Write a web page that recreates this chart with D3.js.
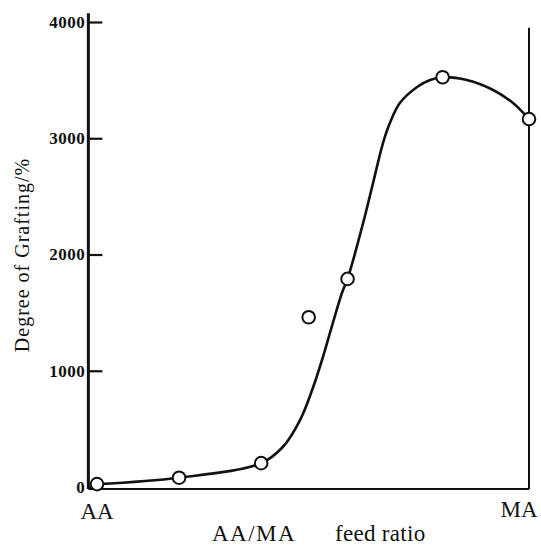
<!DOCTYPE html>
<html>
<head>
<meta charset="utf-8">
<script src="https://cdn.jsdelivr.net/npm/d3@7"></script>
<style>
  html, body { margin: 0; padding: 0; background: #fff; }
  svg { display: block; }
</style>
</head>
<body>
<svg id="chart" width="541" height="545"></svg>
<script>
// ---- data ----
// feed ratio position along the AA -> MA axis (0 = AA, 1 = MA)
const feedRatio = [0, 0.19, 0.38, 0.49, 0.58, 0.80, 1.0];
const grafting  = [25, 80, 205, 1460, 1790, 3525, 3165];

// hand-drawn fitted curve
const curveRatio = [0, 0.19, 0.38, 0.43, 0.47, 0.498, 0.523, 0.546, 0.567, 0.58,
                    0.616, 0.639, 0.662, 0.678, 0.701, 0.741, 0.771, 0.80, 0.856, 0.917, 0.963, 1.0];
const curveValue = [25, 80, 205, 344, 576, 834, 1118, 1411, 1669, 1790,
                    2271, 2615, 2959, 3131, 3303, 3441, 3501, 3525, 3501, 3415, 3303, 3165];

const yTicks = [0, 1000, 2000, 3000, 4000];
const endLabels = ["AA", "MA"];
const yTitle = "Degree of Grafting/%";
const xTitleA = "AA/MA";
const xTitleB = "feed ratio";

// axis extents in data units
const yAxisExtent = [-17, 4075];
const xAxisExtent = [-0.02, 1.0];
const rightLineTop = 3950;

// ---- scales ----
const x = d3.scaleLinear().domain([0, 1]).range([97, 529]);
const y = d3.scaleLinear().domain([0, 4000]).range([487, 22]);

const svg = d3.select("#chart");
const serif = "'Liberation Serif', 'Times New Roman', serif";

// bottom axis line
svg.append("line")
  .attr("x1", x(xAxisExtent[0])).attr("x2", x(xAxisExtent[1]))
  .attr("y1", y(yAxisExtent[0])).attr("y2", y(yAxisExtent[0]))
  .attr("stroke", "#111").attr("stroke-width", 2.2);

// right line (MA)
svg.append("line")
  .attr("x1", x(1)).attr("x2", x(1))
  .attr("y1", y(yAxisExtent[0])).attr("y2", y(rightLineTop))
  .attr("stroke", "#111").attr("stroke-width", 2);

// left axis
const yAxis = d3.axisLeft(y).tickValues(yTicks)
  .tickSizeInner(-14).tickSizeOuter(0).tickPadding(3)
  .tickFormat(d3.format("d"));
const gy = svg.append("g")
  .attr("transform", `translate(${x(xAxisExtent[0])},0)`)
  .call(yAxis);
gy.select(".domain").remove();
gy.selectAll(".tick line").attr("stroke", "#111").attr("stroke-width", 2.2);
gy.selectAll(".tick text")
  .attr("fill", "#111")
  .style("font-family", serif)
  .style("font-size", "17px")
  .style("font-weight", "bold")
  .style("letter-spacing", "0.5px");
gy.append("line")
  .attr("x1", 0).attr("x2", 0)
  .attr("y1", y(yAxisExtent[0])).attr("y2", y(yAxisExtent[1]))
  .attr("stroke", "#111").attr("stroke-width", 3);

// fitted curve
const pts = curveRatio.map((r, i) => [r, curveValue[i]]);
const line = d3.line().x(d => x(d[0])).y(d => y(d[1])).curve(d3.curveCatmullRom.alpha(0.5));
svg.append("path")
  .datum(pts)
  .attr("d", line)
  .attr("fill", "none")
  .attr("stroke", "#111")
  .attr("stroke-width", 2.6);

// markers
svg.selectAll("circle.pt")
  .data(feedRatio.map((r, i) => [r, grafting[i]]))
  .join("circle")
  .attr("class", "pt")
  .attr("cx", d => x(d[0]))
  .attr("cy", d => y(d[1]))
  .attr("r", 6.3)
  .attr("fill", "#fff")
  .attr("stroke", "#111")
  .attr("stroke-width", 2);

// end labels
svg.append("text").text(endLabels[0])
  .attr("x", x(0)).attr("y", 519)
  .attr("text-anchor", "middle")
  .style("font-family", serif).style("font-size", "23px").attr("fill", "#111");
svg.append("text").text(endLabels[1])
  .attr("x", x(1) - 10).attr("y", 517)
  .attr("text-anchor", "middle")
  .style("font-family", serif).style("font-size", "23px").attr("fill", "#111");

// x title
svg.append("text").text(xTitleA)
  .attr("x", 212).attr("y", 541)
  .style("font-family", serif).style("font-size", "23px")
  .style("letter-spacing", "1.5px").attr("fill", "#111");
svg.append("text").text(xTitleB)
  .attr("x", 335).attr("y", 541)
  .style("font-family", serif).style("font-size", "23px")
  .style("letter-spacing", "0.3px").attr("fill", "#111");

// y title
svg.append("text").text(yTitle)
  .attr("transform", "translate(29,255) rotate(-90)")
  .attr("text-anchor", "middle")
  .style("font-family", serif).style("font-size", "20px")
  .style("letter-spacing", "1px").attr("fill", "#111");
</script>
</body>
</html>
